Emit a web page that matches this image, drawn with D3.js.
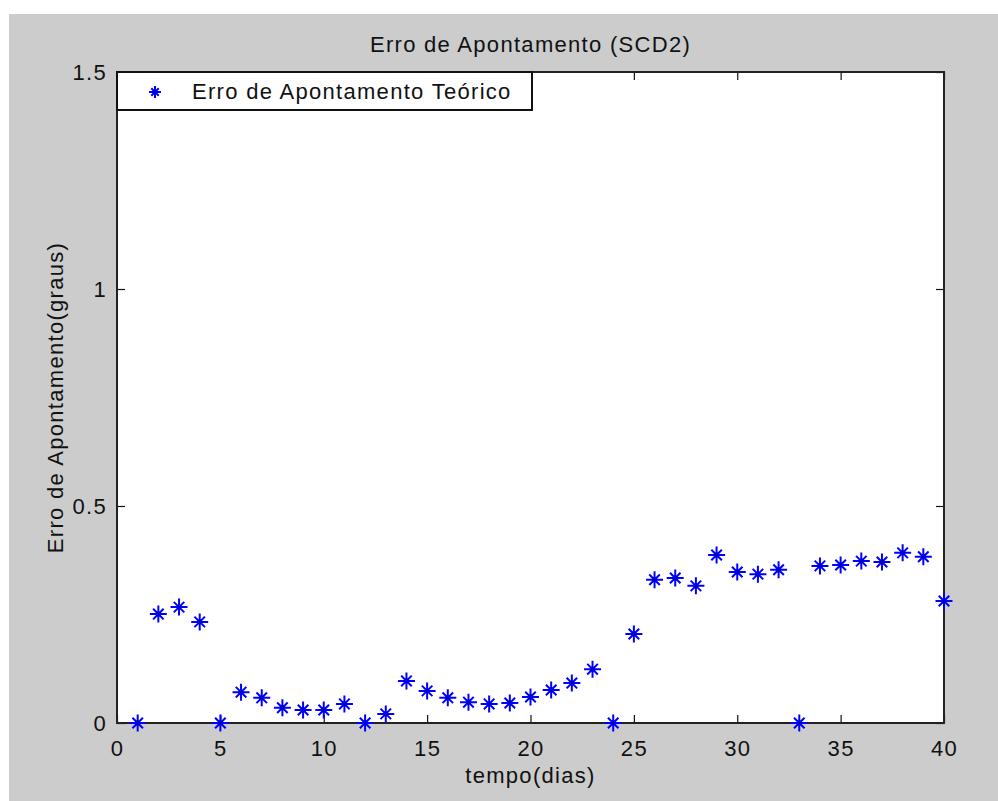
<!DOCTYPE html>
<meta charset="utf-8">
<style>
  body { margin: 0; background: #fff; }
  text { font-family: "Liberation Sans", Arial, sans-serif; fill: #111; letter-spacing: 1.3px; }
</style>
<script src="https://d3js.org/d3.v7.min.js"></script>
<div id="chart"></div>
<script>
// data
var dias = d3.range(1, 41);
var erro = [0, 0.251, 0.267, 0.233, 0, 0.071, 0.058, 0.035, 0.030, 0.030,
            0.044, 0, 0.021, 0.097, 0.074, 0.058, 0.048, 0.044, 0.046, 0.060,
            0.076, 0.092, 0.124, 0, 0.205, 0.330, 0.334, 0.316, 0.387, 0.348,
            0.343, 0.353, 0, 0.362, 0.364, 0.373, 0.371, 0.392, 0.383, 0.281];
var xTicks = [0, 5, 10, 15, 20, 25, 30, 35, 40];
var yTicks = [0, 0.5, 1, 1.5];

var W = 998, H = 801;
var margin = {top: 72, right: 54, bottom: 78, left: 117};
var width = W - margin.left - margin.right,
    height = H - margin.top - margin.bottom;

var svg = d3.select("#chart").append("svg")
  .attr("width", W).attr("height", H);

// figure background (grey)
svg.append("rect").attr("x", 9).attr("y", 14)
  .attr("width", W - 9).attr("height", H - 14).attr("fill", "#cccccc");

var g = svg.append("g")
  .attr("transform", "translate(" + margin.left + "," + margin.top + ")");

var x = d3.scaleLinear().domain([0, 40]).range([0, width]);
var y = d3.scaleLinear().domain([0, 1.5]).range([height, 0]);

g.append("rect").attr("width", width).attr("height", height).attr("fill", "#fff");

// axes with inward ticks, box on
function styleAxis(sel) {
  sel.select(".domain").remove();
  sel.selectAll(".tick line").attr("stroke", "#111").attr("stroke-width", 1.2);
  sel.selectAll(".tick text").attr("font-size", 22).attr("fill", "#111")
    .attr("font-family", "Liberation Sans, Arial, sans-serif");
}
g.append("g").attr("transform", "translate(0," + height + ")")
  .call(d3.axisBottom(x).tickValues(xTicks).tickSizeInner(-8).tickPadding(17).tickSizeOuter(0))
  .call(styleAxis);
g.append("g")
  .call(d3.axisTop(x).tickValues(xTicks).tickSizeInner(-8).tickSizeOuter(0).tickFormat(""))
  .call(styleAxis);
g.append("g")
  .call(d3.axisLeft(y).tickValues(yTicks).tickSizeInner(-8).tickPadding(10).tickSizeOuter(0)
    .tickFormat(function(d) { return d === 0 ? "0" : d3.format("~g")(d); }))
  .call(styleAxis);
g.append("g").attr("transform", "translate(" + width + ",0)")
  .call(d3.axisRight(y).tickValues(yTicks).tickSizeInner(-8).tickSizeOuter(0).tickFormat(""))
  .call(styleAxis);

g.append("rect").attr("width", width).attr("height", height)
  .attr("fill", "none").attr("stroke", "#222").attr("stroke-width", 2);

// asterisk marker
function star(sel, r) {
  var d = r * 0.62;
  sel.append("path")
    .attr("d", "M" + (-r) + ",0H" + r + "M0," + (-r) + "V" + r +
               "M" + (-d) + "," + (-d) + "L" + d + "," + d +
               "M" + (-d) + "," + d + "L" + d + "," + (-d))
    .attr("stroke", "#0000ff").attr("stroke-width", 2).attr("fill", "none");
  sel.append("circle").attr("r", 2.4).attr("fill", "#0000cc");
}

g.selectAll(".pt").data(dias).enter().append("g")
  .attr("class", "pt")
  .attr("transform", function(d, i) { return "translate(" + x(d) + "," + y(erro[i]) + ")"; })
  .each(function() { star(d3.select(this), 8.5); });

// legend
var leg = g.append("g");
leg.append("rect").attr("x", 0).attr("y", 0).attr("width", 415).attr("height", 38)
  .attr("fill", "#fff").attr("stroke", "#111").attr("stroke-width", 2);
leg.append("g").attr("transform", "translate(38,20)").each(function() { star(d3.select(this), 6); });
leg.append("text").attr("x", 75).attr("y", 27).attr("font-size", 22)
  .text("Erro de Apontamento Teórico");

// title and labels
svg.append("text").attr("x", margin.left + width / 2).attr("y", 52)
  .attr("text-anchor", "middle").attr("font-size", 22).text("Erro de Apontamento (SCD2)");
svg.append("text").attr("x", margin.left + width / 2).attr("y", 783)
  .attr("text-anchor", "middle").attr("font-size", 22).text("tempo(dias)");
svg.append("text")
  .attr("transform", "translate(63," + (margin.top + height / 2) + ") rotate(-90)")
  .attr("text-anchor", "middle").attr("font-size", 22).text("Erro de Apontamento(graus)");
</script>
